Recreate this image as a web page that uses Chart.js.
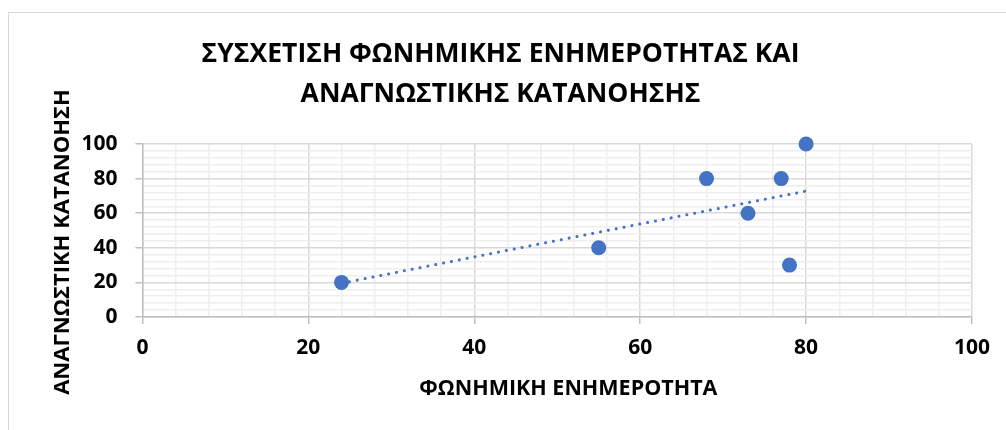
<!DOCTYPE html>
<html>
<head>
<meta charset="utf-8">
<script src="https://cdn.jsdelivr.net/npm/chart.js@4/dist/chart.umd.min.js"></script>
<style>
  html, body { margin: 0; padding: 0; background: #fff; }
  #wrap { position: relative; width: 1006px; height: 430px; overflow: hidden; }
  #frame { position: absolute; left: 8px; top: 12px; width: 1010px; height: 440px;
           border-top: 1.5px solid #d9d9d9; border-left: 1.5px solid #d9d9d9; }
  #myChart { position: absolute; left: 0; top: 0; }
</style>
</head>
<body>
<div id="wrap">
  <div id="frame"></div>
  <canvas id="myChart" width="1006" height="430"></canvas>
</div>
<script>
// points
const phonemic = [24, 55, 68, 73, 77, 78, 80];
const reading = [20, 40, 80, 60, 80, 30, 100];

// dotted trendline ends (as drawn in the original)
const trendX = [24, 80];
const trendY = [19.5, 72.8];

const titleLines = ['ΣΥΣΧΕΤΙΣΗ ΦΩΝΗΜΙΚΗΣ ΕΝΗΜΕΡΟΤΗΤΑΣ ΚΑΙ', 'ΑΝΑΓΝΩΣΤΙΚΗΣ ΚΑΤΑΝΟΗΣΗΣ'];
const xTitle = 'ΦΩΝΗΜΙΚΗ ΕΝΗΜΕΡΟΤΗΤΑ';
const yTitle = 'ΑΝΑΓΝΩΣΤΙΚΗ ΚΑΤΑΝΟΗΣΗ';

const blue = '#4472c4';
const font = "'Open Sans', 'DejaVu Sans', sans-serif";
const nb = '\u00a0\u00a0\u00a0\u00a0'; // axis titles sit a bit off-centre in the original

const points = [];
for (let i = 0; i < phonemic.length; i++) {
  points.push({ x: phonemic[i], y: reading[i] });
}
const trend = [];
for (let i = 0; i < trendX.length; i++) {
  trend.push({ x: trendX[i], y: trendY[i] });
}

function isMajor(ctx) {
  return ctx.tick && ctx.tick.value % 20 === 0;
}

const gridOpts = {
  color: ctx => isMajor(ctx) ? '#d9d9d9' : '#eeeeee',
  lineWidth: 1.5,
  tickColor: ctx => isMajor(ctx) ? '#bfbfbf' : 'rgba(0,0,0,0)',
  tickLength: 7,
  drawTicks: true
};

const ctx = document.getElementById('myChart');
const myChart = new Chart(ctx, {
  type: 'scatter',
  data: {
    datasets: [
      {
        label: 'data',
        data: points,
        backgroundColor: blue,
        borderColor: blue,
        borderWidth: 0,
        pointRadius: 7.5,
        pointHoverRadius: 7.5,
        clip: false,
        order: 1
      },
      {
        label: 'trend',
        type: 'line',
        data: trend,
        showLine: true,
        borderColor: blue,
        borderWidth: 3,
        borderDash: [0.1, 7.9],
        borderCapStyle: 'round',
        pointRadius: 0,
        fill: false,
        order: 2
      }
    ]
  },
  options: {
    responsive: false,
    animation: false,
    layout: { padding: { left: 29, right: 34, top: 14, bottom: 28 } },
    plugins: {
      legend: { display: false },
      tooltip: { enabled: false },
      title: {
        display: true,
        text: titleLines,
        color: '#000',
        font: { family: font, size: 26.5, weight: 'bold', lineHeight: 1.51 },
        padding: { top: 20, bottom: 30 }
      }
    },
    scales: {
      x: {
        type: 'linear',
        min: 0,
        max: 100,
        border: { color: '#bfbfbf', width: 1.5 },
        grid: gridOpts,
        ticks: {
          stepSize: 4,
          autoSkip: false,
          maxRotation: 0,
          padding: 11,
          color: '#000',
          font: { family: font, size: 21, weight: 'bold' },
          callback: v => v % 20 === 0 ? v : ''
        },
        title: {
          display: true,
          text: nb + xTitle,
          color: '#000',
          font: { family: font, size: 21.5, weight: 'bold' },
          padding: { top: 5, bottom: 0 }
        }
      },
      y: {
        type: 'linear',
        min: 0,
        max: 100,
        border: { color: '#bfbfbf', width: 1.5 },
        grid: gridOpts,
        ticks: {
          stepSize: 4,
          autoSkip: false,
          padding: 18,
          color: '#000',
          font: { family: font, size: 21, weight: 'bold' },
          callback: v => v % 20 === 0 ? v : ''
        },
        title: {
          display: true,
          text: yTitle + nb,
          color: '#000',
          font: { family: font, size: 22, weight: 'bold' },
          padding: { top: 21, bottom: -13 }
        }
      }
    }
  }
});
</script>
</body>
</html>
